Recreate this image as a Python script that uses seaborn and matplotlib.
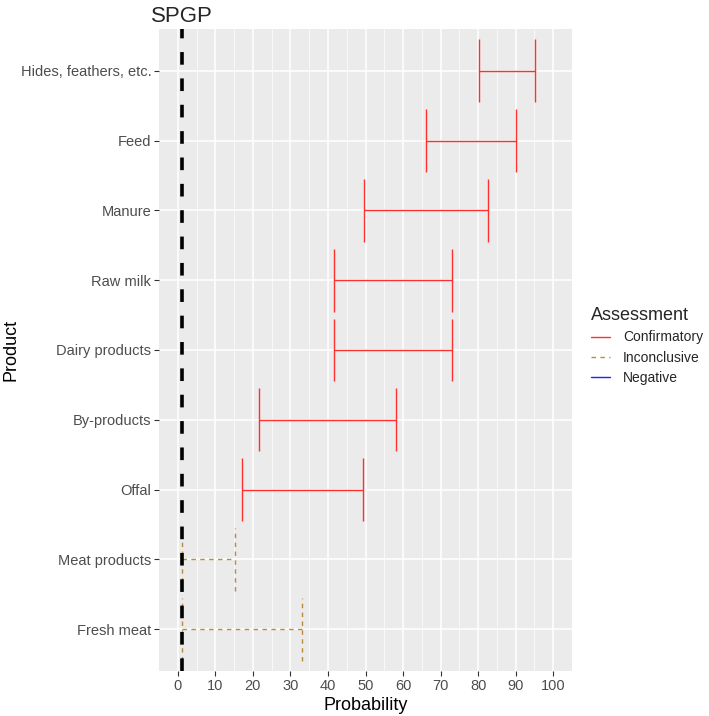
import numpy as np
import pandas as pd
import matplotlib
matplotlib.use("Agg")
import matplotlib.pyplot as plt
from matplotlib.lines import Line2D
import seaborn as sns

# Data (bottom to top)
products = ["Fresh meat", "Meat products", "Offal", "By-products", "Dairy products",
            "Raw milk", "Manure", "Feed", "Hides, feathers, etc."]
low = [1, 1, 17, 21.6, 41.6, 41.6, 49.6, 66.1, 80.1]
high = [33, 15.2, 49.4, 58.1, 73.1, 73.1, 82.5, 90.2, 95.1]
assessment = ["Inconclusive", "Inconclusive", "Confirmatory", "Confirmatory", "Confirmatory",
              "Confirmatory", "Confirmatory", "Confirmatory", "Confirmatory"]
levels = ["Confirmatory", "Inconclusive", "Negative"]
spgp = 1

palette = {"Confirmatory": "#FF3030", "Inconclusive": "#BC8A3C", "Negative": "#2020FF"}
dash_map = {"Confirmatory": "", "Inconclusive": (3.2, 3.2), "Negative": ""}

df = pd.DataFrame({"Product": products, "low": low, "high": high, "Assessment": assessment})
df["pos"] = np.arange(1, len(products) + 1)
long_df = df.melt(id_vars=["Product", "pos", "Assessment"], value_vars=["low", "high"],
                  value_name="Probability")

sns.set_theme(style="darkgrid", rc={
    "axes.facecolor": "#EBEBEB",
    "grid.color": "white",
    "axes.edgecolor": "#EBEBEB",
})
plt.rcParams["font.family"] = ["Liberation Sans", "DejaVu Sans"]

fig = plt.figure(figsize=(7.09, 7.16), dpi=100)
ax = fig.add_axes([159 / 709, 1 - 671 / 716, (572 - 159) / 709, (671 - 29) / 716])

sns.lineplot(data=long_df, x="Probability", y="pos", hue="Assessment", style="Assessment",
             units="Product", estimator=None, sort=False, palette=palette,
             hue_order=levels, style_order=levels, dashes=dash_map, lw=1.0,
             legend=False, ax=ax)

# end caps of the error bars
for _, r in df.iterrows():
    ls = (0, (3.2, 3.2)) if r["Assessment"] == "Inconclusive" else "-"
    ax.vlines([r["low"], r["high"]], r["pos"] - 0.45, r["pos"] + 0.45,
              color=palette[r["Assessment"]], lw=1.0, linestyles=ls)

ax.axvline(spgp, color="black", lw=2.6, linestyle=(0, (3.5, 3.8)))

ax.set_xlim(-5, 105)
ax.set_ylim(0.4, len(products) + 0.6)
ax.set_xticks(np.arange(0, 101, 10))
ax.set_xticks(np.arange(5, 101, 10), minor=True)
ax.set_yticks(df["pos"])
ax.set_yticklabels(products)
ax.grid(which="major", color="white", lw=1.1)
ax.grid(which="minor", axis="x", color="white", lw=0.5)
ax.tick_params(axis="both", which="major", length=3.5, width=0.8, color="#333333",
               labelsize=10.5, labelcolor="#4D4D4D", pad=2, bottom=True, left=True)
ax.tick_params(which="minor", length=0)
for s in ax.spines.values():
    s.set_visible(False)

ax.set_xlabel("Probability", fontsize=13, color="black", labelpad=3)
ax.set_ylabel("Product", fontsize=13, color="black")
ax.yaxis.set_label_coords((20 - 159) / 413, 0.5)
ax.set_title("SPGP", fontsize=16, loc="left", x=-0.02, pad=5)

handles = [Line2D([0], [0], color=palette[l], lw=1.0,
                  linestyle=(0, (3.2, 3.2)) if l == "Inconclusive" else "-") for l in levels]
leg = fig.legend(handles, levels, title="Assessment", loc="center left",
                 bbox_to_anchor=(591 / 709, 1 - 346 / 716), frameon=False, borderpad=0,
                 borderaxespad=0, fontsize=10, title_fontsize=13, handlelength=1.4,
                 handletextpad=0.9, labelspacing=0.45, alignment="left")

fig.savefig("out.png", dpi=100)
